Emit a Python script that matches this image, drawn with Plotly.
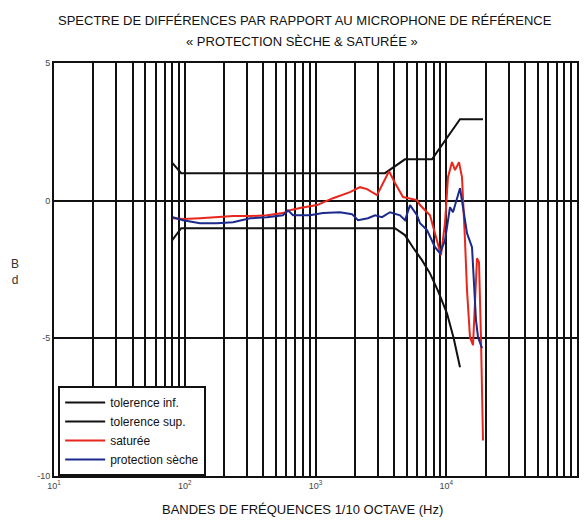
import plotly.graph_objects as go

# ---- data ----
tol_inf_f = [80, 94, 4050, 4830, 5570, 6500, 7510, 8700, 10140, 11400, 12740]
tol_inf_v = [-1.44, -1.0, -1.0, -1.25, -1.7, -2.15, -2.64, -3.3, -4.1, -5.0, -6.05]

tol_sup_f = [80, 94, 3400, 4830, 7780, 12740, 19100]
tol_sup_v = [1.38, 1.0, 1.0, 1.5, 1.5, 2.96, 2.96]

sat_f = [81, 97, 131, 176, 234, 316, 426, 564, 638, 761, 1027, 1361, 1836, 2190, 2477,
         2954, 3284, 3650, 4055, 4670, 5976, 6300, 7510, 8500, 9115, 9780, 10310, 11070,
         11670, 12520, 13200, 13910, 14410, 15190, 16020, 17190, 17810, 18450, 19100]
sat_v = [-0.64, -0.67, -0.64, -0.6, -0.56, -0.56, -0.53, -0.45, -0.35, -0.27, -0.16, 0.09,
         0.31, 0.49, 0.42, 0.2, 0.64, 1.07, 0.64, 0.13, 0.02, -0.16, -0.53, -1.44, -1.98,
         -0.82, 0.85, 1.4, 1.11, 1.4, 0.85, -1.44, -3.25, -4.96, -5.25, -2.09, -2.24,
         -5.07, -8.71]

sec_f = [81, 97, 131, 176, 234, 316, 426, 564, 616, 673, 722, 908, 1141, 1539, 1902, 2114,
         2520, 2852, 3226, 3714, 4430, 4837, 5283, 5976, 6300, 7126, 8204, 8961, 9780,
         10680, 11260, 12740, 13430, 14410, 15740, 16300, 16890, 17500, 18770]
sec_v = [-0.6, -0.71, -0.82, -0.82, -0.78, -0.64, -0.6, -0.53, -0.35, -0.53, -0.53, -0.53,
         -0.45, -0.42, -0.49, -0.71, -0.64, -0.53, -0.6, -0.42, -0.53, -0.71, -0.16, -0.53,
         -0.82, -1.07, -1.69, -1.91, -1.44, -0.24, -0.42, 0.45, -0.24, -1.18, -1.69, -2.89,
         -4.35, -4.96, -5.36]

decades = [1, 2, 3, 4, 5]
y_ticks = [-10, -5, 0, 5]

# gridline positions (every 1..9 x 10^n)
x_grid = []
x_text = []
for d in decades:
    for m in range(1, 10):
        if d == 5 and m > 1:
            break
        x_grid.append(m * 10 ** d)
        x_text.append(f"10<sup>{d}</sup>" if m == 1 else "")

FONT = "Liberation Sans, Arial, sans-serif"

fig = go.Figure()
fig.add_trace(go.Scatter(x=tol_inf_f, y=tol_inf_v, mode="lines", name="tolerence inf.",
                         line=dict(color="#111111", width=2)))
fig.add_trace(go.Scatter(x=tol_sup_f, y=tol_sup_v, mode="lines", name="tolerence sup.",
                         line=dict(color="#111111", width=2)))
fig.add_trace(go.Scatter(x=sat_f, y=sat_v, mode="lines", name="saturée",
                         line=dict(color="#e8261c", width=2)))
fig.add_trace(go.Scatter(x=sec_f, y=sec_v, mode="lines", name="protection sèche",
                         line=dict(color="#1b2a8c", width=2)))

fig.update_layout(
    width=584, height=522,
    margin=dict(l=54, r=7, t=63, b=46, autoexpand=False),
    paper_bgcolor="white", plot_bgcolor="white",
    showlegend=True,
    legend=dict(x=0.008, y=0.0, xanchor="left", yanchor="bottom",
                bgcolor="white", bordercolor="#111111", borderwidth=2,
                font=dict(family=FONT, size=12, color="#111111"),
                itemwidth=40, tracegroupgap=0),
    xaxis=dict(type="log", range=[1, 5], tickvals=x_grid, ticktext=x_text,
               showgrid=True, gridcolor="#111111", gridwidth=2,
               showline=True, linecolor="#111111", linewidth=2, mirror=True,
               ticks="", automargin=False,
               tickfont=dict(family=FONT, size=9, color="#444444"),
               zeroline=False),
    yaxis=dict(range=[-10, 5], tickvals=y_ticks, ticktext=[str(v) for v in y_ticks],
               showgrid=True, gridcolor="#111111", gridwidth=2,
               showline=True, linecolor="#111111", linewidth=2, mirror=True,
               ticks="", automargin=False,
               tickfont=dict(family=FONT, size=9, color="#444444"),
               zeroline=False),
)

ann_font = dict(family=FONT, size=13, color="#111111")
fig.add_annotation(text="SPECTRE DE DIFFÉRENCES PAR RAPPORT AU MICROPHONE DE RÉFÉRENCE",
                   xref="paper", yref="paper", x=0.48, y=1.104, xanchor="center",
                   yanchor="middle", showarrow=False, font=ann_font)
fig.add_annotation(text="« PROTECTION SÈCHE & SATURÉE »",
                   xref="paper", yref="paper", x=0.475, y=1.053, xanchor="center",
                   yanchor="middle", showarrow=False, font=ann_font)
fig.add_annotation(text="BANDES DE FRÉQUENCES 1/10 OCTAVE (Hz)",
                   xref="paper", yref="paper", x=0.476, y=-0.082, xanchor="center",
                   yanchor="middle", showarrow=False, font=ann_font)
fig.add_annotation(text="B<br>d", xref="paper", yref="paper", x=-0.0746, y=0.494,
                   xanchor="center", yanchor="middle", showarrow=False,
                   font=dict(family=FONT, size=12, color="#333333"))

fig.write_html("out.html")
